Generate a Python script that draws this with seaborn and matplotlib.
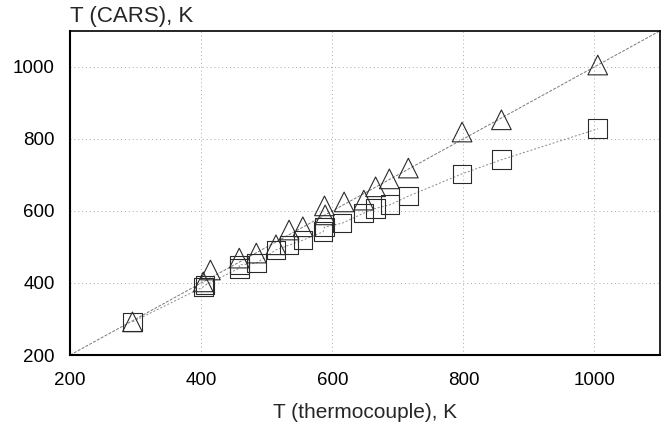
import matplotlib
matplotlib.use("Agg")
import matplotlib.pyplot as plt
import seaborn as sns
import pandas as pd

# Data
tc_tri = [295, 403, 414, 458, 484, 514, 534, 555, 588, 589, 618, 648, 666, 687, 716, 798, 858, 1005]
cars_tri = [292, 403, 436, 469, 483, 506, 547, 556, 614, 589, 625, 630, 667, 689, 719, 819, 853, 1005]

tc_sq = [295, 403, 406, 458, 458, 484, 514, 534, 555, 586, 588, 615, 648, 666, 688, 716, 798, 858, 1005]
cars_sq = [292, 389, 394, 441, 450, 455, 492, 505, 519, 542, 555, 566, 594, 607, 617, 641, 703, 742, 828]

ref_line = [200, 1100]  # y = x reference
x_ticks = [200, 400, 600, 800, 1000]
y_ticks = [200, 400, 600, 800, 1000]

sns.set_theme(style="white")
plt.rcParams['font.family'] = ['Liberation Sans', 'DejaVu Sans']

fig = plt.figure(figsize=(6.62, 4.34), dpi=100)
ax = fig.add_axes([0.106, 0.182, 0.891, 0.747])

df_tri = pd.DataFrame({"tc": tc_tri, "cars": cars_tri})
df_sq = pd.DataFrame({"tc": tc_sq, "cars": cars_sq})
df_ref = pd.DataFrame({"tc": ref_line, "cars": ref_line})

for v in [400, 600, 800, 1000]:
    ax.axvline(v, color="#aaaaaa", lw=0.7, ls=(0, (1, 3)), zorder=0)
    ax.axhline(v, color="#aaaaaa", lw=0.7, ls=(0, (1, 3)), zorder=0)

sns.lineplot(data=df_ref, x="tc", y="cars", ax=ax, color="#777777", lw=0.7,
             linestyle=(0, (3, 1.5)), zorder=1)
sns.lineplot(data=df_sq.sort_values("tc"), x="tc", y="cars", ax=ax, color="#888888",
             lw=0.7, linestyle=(0, (2, 2)), estimator=None, sort=True, zorder=1)

ax.scatter(df_sq["tc"], df_sq["cars"], marker="s", s=180, facecolors="none",
           edgecolors="#2a2a2a", linewidths=0.8, zorder=3)
ax.scatter(df_tri["tc"], df_tri["cars"], marker="^", s=200, facecolors="none",
           edgecolors="#2a2a2a", linewidths=0.8, zorder=3)

ax.set_xlim(200, 1100)
ax.set_ylim(200, 1100)
ax.set_xticks(x_ticks)
ax.set_yticks(y_ticks)
ax.tick_params(axis="both", labelsize=13.5, colors="black", width=0.8)
ax.tick_params(axis="x", direction="out", length=5, pad=7)
ax.tick_params(axis="y", direction="in", length=6, pad=11)

for side in ["left", "bottom"]:
    ax.spines[side].set_color("black")
    ax.spines[side].set_linewidth(1.5)
for side in ["top", "right"]:
    ax.spines[side].set_color("black")
    ax.spines[side].set_linewidth(1.2)

ax.set_xlabel("T (thermocouple), K", fontsize=15, labelpad=10)
ax.set_ylabel("")
ax.text(0.0, 1.028, "T (CARS), K", transform=ax.transAxes, ha="left", va="baseline",
        fontsize=16)

fig.savefig("out.png", dpi=100)
